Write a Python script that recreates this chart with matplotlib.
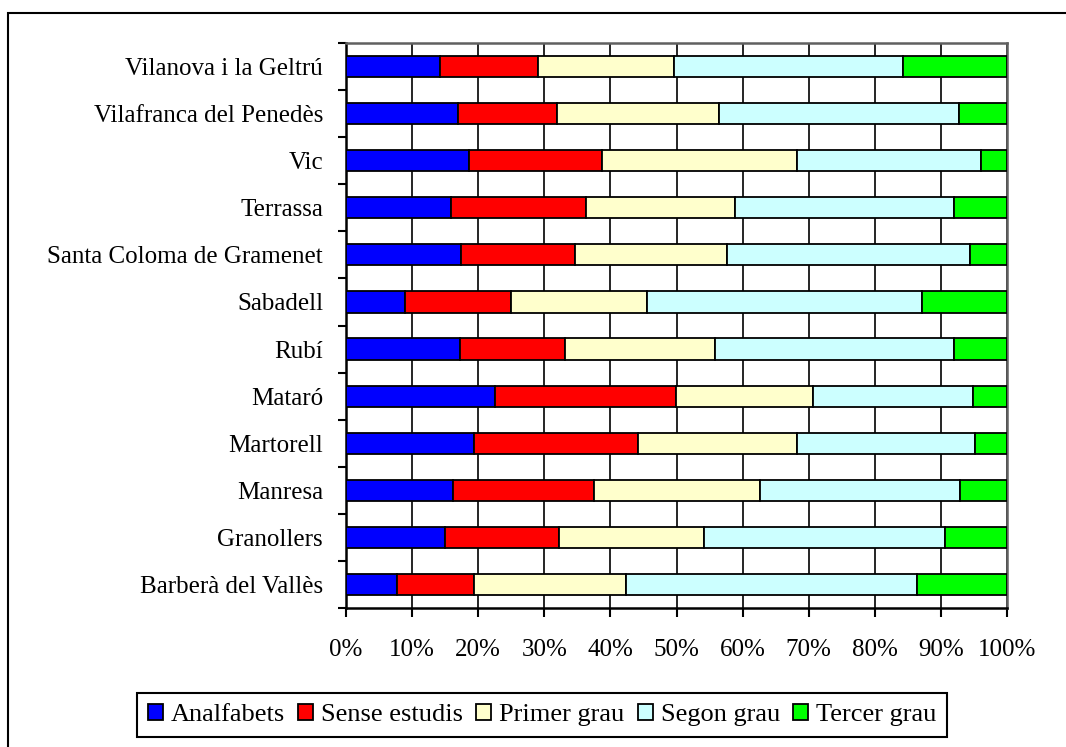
import matplotlib
matplotlib.use('Agg')
import matplotlib.pyplot as plt
from matplotlib.patches import Rectangle
from matplotlib.ticker import FixedLocator
import numpy as np

# bottom to top, as drawn
municipis = ['Barberà del Vallès', 'Granollers', 'Manresa', 'Martorell', 'Mataró', 'Rubí',
             'Sabadell', 'Santa Coloma de Gramenet', 'Terrassa', 'Vic',
             'Vilafranca del Penedès', 'Vilanova i la Geltrú']

analfabets = [7.7, 15.0, 16.2, 19.3, 22.5, 17.2, 8.9, 17.4, 15.9, 18.6, 17.0, 14.2]
sense_estudis = [11.6, 17.2, 21.3, 24.8, 27.4, 15.9, 16.0, 17.2, 20.4, 20.2, 14.9, 14.8]
primer_grau = [23.0, 22.0, 25.1, 24.1, 20.8, 22.8, 20.6, 23.0, 22.5, 29.4, 24.5, 20.6]
segon_grau = [44.1, 36.4, 30.3, 26.9, 24.2, 36.1, 41.7, 36.8, 33.2, 27.9, 36.3, 34.6]
tercer_grau = [13.6, 9.4, 7.1, 4.9, 5.1, 8.0, 12.8, 5.6, 8.0, 3.9, 7.3, 15.8]

series = ['Analfabets', 'Sense estudis', 'Primer grau', 'Segon grau', 'Tercer grau']
colors = ['#0000FF', '#FF0000', '#FFFFCC', '#CCFFFF', '#00FF00']

plt.rcParams['font.family'] = ['Liberation Serif', 'DejaVu Serif']
plt.rcParams['font.size'] = 18

fig = plt.figure(figsize=(10.66, 7.47), dpi=100)
ax = fig.add_axes([346/1066, 1 - 608/747, 661/1066, 565/747])

y = np.arange(len(municipis))
left = np.zeros(len(municipis))
for name, vals, c in zip(series, [analfabets, sense_estudis, primer_grau, segon_grau, tercer_grau], colors):
    ax.barh(y, vals, left=left, height=0.45, color=c, edgecolor='black', linewidth=1.3,
            label=name, zorder=3)
    left += np.array(vals)

ax.set_xlim(0, 100)
ax.set_ylim(-0.5, len(municipis) - 0.5)
ax.set_xticks(np.arange(0, 101, 10))
ax.set_xticklabels([f'{v}%' for v in range(0, 101, 10)])
ax.set_yticks(y)
ax.set_yticklabels(municipis)
ax.yaxis.set_minor_locator(FixedLocator(np.arange(-0.5, len(municipis), 1)))
ax.tick_params(axis='y', which='major', length=0, pad=16.5)
ax.tick_params(axis='y', which='minor', length=6, width=1.5, direction='out')
ax.tick_params(axis='x', length=6.5, width=1.5, direction='out', pad=16)

ax.xaxis.grid(True, color='black', linewidth=1.2, zorder=0)
ax.set_axisbelow(True)
for s in ['left', 'bottom']:
    ax.spines[s].set_linewidth(1.8)
    ax.spines[s].set_color('black')
for s in ['top', 'right']:
    ax.spines[s].set_linewidth(1.8)
    ax.spines[s].set_color('#606060')

leg = fig.legend(loc='center', bbox_to_anchor=(542/1066, 1 - 715/747), ncol=5, fontsize=19,
                 handlelength=0.57, handleheight=0.57, handletextpad=0.3, columnspacing=0.5,
                 borderpad=0.42, fancybox=False, edgecolor='black', framealpha=1)
leg.get_frame().set_linewidth(1.5)

# outer chart frame (cut off on the right and bottom)
fig.patches.append(Rectangle((8/1066, -0.1), 1.2, 1 - 13/747 + 0.1, transform=fig.transFigure,
                             fill=False, edgecolor='black', linewidth=1.5))

plt.savefig('out.png', dpi=100)
plt.close()
